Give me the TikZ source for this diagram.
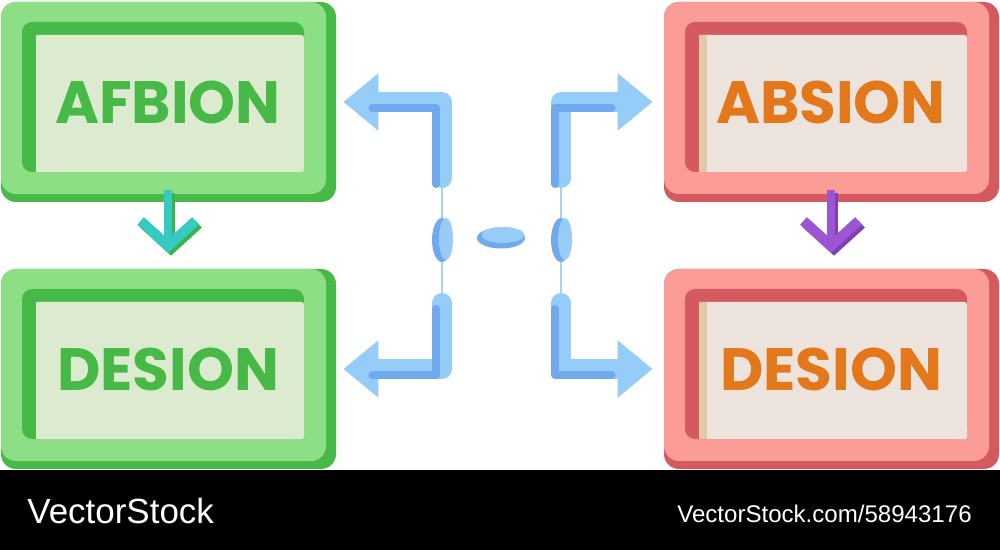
\documentclass[tikz,border=0pt]{standalone}
\usepackage{fontspec}
\setsansfont{Liberation Sans}
\newfontfamily\boxfont{Poppins}
\usetikzlibrary{arrows.meta}
\definecolor{gdark}{HTML}{46B946}
\definecolor{glight}{HTML}{8DDF86}
\definecolor{gpale}{HTML}{DCEBD0}
\definecolor{rdark}{HTML}{D55A5F}
\definecolor{rlight}{HTML}{FB9C97}
\definecolor{rpale}{HTML}{ECE3DD}
\definecolor{rtan}{HTML}{E0C8A8}
\definecolor{rtext}{HTML}{E2781A}
\definecolor{blight}{HTML}{95CDF8}
\definecolor{bdark}{HTML}{70A9EE}
\definecolor{bthin}{HTML}{A9D0EC}
\definecolor{stepteal}{HTML}{35CBC3}
\definecolor{stepgreen}{HTML}{3BB54A}
\definecolor{steppurple}{HTML}{9C55D3}
\definecolor{stepviolet}{HTML}{7E3FB8}
\tikzset{
  boxlabel/.style={font=\boxfont\bfseries\fontsize{34}{34}\selectfont,
    minimum width=6.68cm, minimum height=4cm, inner sep=0pt},
  flowlink/.style={blight, line width=0.4cm, line cap=round, line join=round,
    -{Triangle[length=0.7cm, width=1.1cm]}},
  linkshade/.style={bdark, line width=0.16cm, line cap=round, line join=round,
    transform canvas={shift={(-0.12cm,-0.12cm)}}},
  steplink/.style={line width=0.15cm, shorten <=-0.24cm, shorten >=0.32cm,
    -{Straight Barb[length=0.5cm, width=1.1cm, line width=0.2cm]}},
}
\begin{document}
\begin{tikzpicture}[x=0.02cm, y=-0.02cm]
  \useasboundingbox (0,0) rectangle (1000,550);
  \foreach \cx/\cy/\dk/\lt/\pl/\st/\tc/\n/\txt in {
      168/102/gdark/glight/gpale/gpale/gdark/afbion/AFBION,
      168/369/gdark/glight/gpale/gpale/gdark/desion1/DESION,
      831/102/rdark/rlight/rpale/rtan/rtext/absion/ABSION,
      831/369/rdark/rlight/rpale/rtan/rtext/desion2/DESION} {
    \fill[\dk, rounded corners=0.3cm] (\cx-167, \cy-100) rectangle (\cx+168, \cy+100);
    \fill[\lt, rounded corners=0.3cm] (\cx-167, \cy-100) rectangle (\cx+158, \cy+92);
    \fill[\dk, rounded corners=0.2cm] (\cx-146, \cy-80) rectangle (\cx+136, \cy+70);
    \fill[\pl, rounded corners=0.05cm] (\cx-132, \cy-67) rectangle (\cx+136, \cy+70);
    \fill[\st] (\cx-132, \cy-67) rectangle (\cx-124, \cy+70);
    \node[boxlabel, text=\tc] (\n) at (\cx, \cy) {\txt};
  }

  \draw[steplink, stepgreen, transform canvas={shift={(0.06cm,-0.06cm)}}]
    (afbion.south) -- (desion1.north);
  \draw[steplink, stepteal] (afbion.south) -- (desion1.north);
  \draw[steplink, stepviolet, transform canvas={shift={(0.06cm,-0.06cm)}}]
    (absion.south) -- (desion2.north);
  \draw[steplink, steppurple] (absion.south) -- (desion2.north);

  \coordinate (ltop) at (442, 178);
  \coordinate (lbot) at (442, 303);
  \coordinate (rtop) at (561, 178);
  \coordinate (rbot) at (561, 303);
  \draw[bthin, line width=0.03cm] (ltop) -- (lbot);
  \draw[bthin, line width=0.03cm] (rtop) -- (rbot);
  \foreach \x in {442, 561} {
    \fill[bdark] (\x, 240) ellipse [x radius=0.2cm, y radius=0.44cm];
    \fill[blight] (\x+4, 239) ellipse [x radius=0.14cm, y radius=0.42cm];
  }
  \fill[bdark] (501, 238) ellipse [x radius=0.48cm, y radius=0.21cm];
  \fill[blight] (503, 235) ellipse [x radius=0.43cm, y radius=0.16cm];

  \draw[flowlink, shorten >=0.16cm] (ltop) |- (afbion.east);
  \draw[linkshade, shorten >=0.86cm] (ltop) |- (afbion.east);
  \draw[flowlink, shorten >=0.16cm] (lbot) |- (desion1.east);
  \draw[linkshade, shorten >=0.86cm] (lbot) |- (desion1.east);
  \draw[flowlink, shorten >=0.22cm] (rtop) |- (absion.west);
  \draw[linkshade, shorten >=0.92cm] (rtop) |- (absion.west);
  \draw[flowlink, shorten >=0.22cm] (rbot) |- (desion2.west);
  \draw[linkshade, shorten >=0.92cm] (rbot) |- (desion2.west);

  \fill[black] (0, 470) rectangle (1000, 550);
  \node[anchor=base west, inner sep=0pt, text=white,
    font=\sffamily\fontsize{19.9}{20}\selectfont] (brand) at (27, 523) {VectorStock};
  \node[anchor=base east, inner sep=0pt, text=white,
    font=\sffamily\fontsize{13.7}{14}\selectfont] (imageid) at (972, 522) {VectorStock.com/58943176};
\end{tikzpicture}
\end{document}
